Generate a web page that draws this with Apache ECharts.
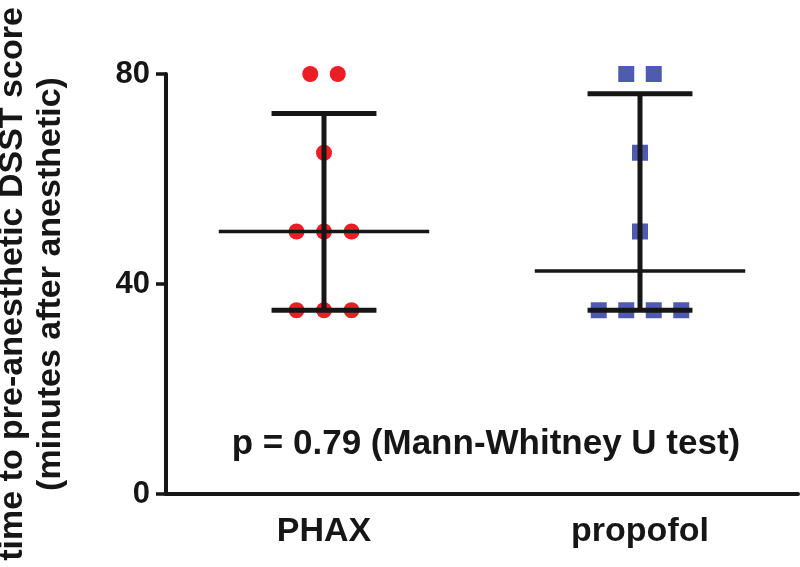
<!DOCTYPE html>
<html><head><meta charset="utf-8">
<script src="https://cdn.jsdelivr.net/npm/echarts@6/dist/echarts.min.js"></script>
<style>html,body{margin:0;padding:0;background:#fff}#c{width:800px;height:567px}</style>
</head><body><div id="c"></div>
<script>
const categories = ['PHAX', 'propofol'];
const phaxValues = [80, 80, 65, 50, 50, 50, 35, 35, 35];
const propofolValues = [80, 80, 65, 50, 35, 35, 35, 35];
const medians = [50, 42.5];
const lowerQuartiles = [35, 35];
const upperQuartiles = [72.5, 76.25];
const yTicks = [0, 40, 80];
const annotation = 'p = 0.79 (Mann-Whitney U test)';
const yTitle = ['time to pre-anesthetic DSST score', '(minutes after anesthetic)'];

const FONT = '"Liberation Sans", Arial, Helvetica, sans-serif';
const INK = '#161616';

// column-scatter layout: identical values spread side by side
function swarm(values, catIndex, spacing) {
  const counts = {};
  values.forEach(v => counts[v] = (counts[v] || 0) + 1);
  const seen = {};
  return values.map(v => {
    seen[v] = seen[v] === undefined ? 0 : seen[v] + 1;
    const off = (seen[v] - (counts[v] - 1) / 2) * spacing;
    return { value: [catIndex, v], symbolOffset: [off, 0] };
  });
}

const summaryData = categories.map((c, i) => [i, medians[i], lowerQuartiles[i], upperQuartiles[i]]);

const chart = echarts.init(document.getElementById('c'), null, { renderer: 'canvas' });
chart.setOption({
  animation: false,
  backgroundColor: '#fff',
  grid: { left: 166, right: 2, top: 74, bottom: 73, containLabel: false, outerBoundsMode: 'none' },
  xAxis: {
    type: 'category',
    data: categories,
    boundaryGap: true,
    axisLine: { lineStyle: { color: INK, width: 4 } },
    axisTick: { alignWithLabel: true, length: 11, lineStyle: { color: INK, width: 3.5 } },
    axisLabel: { color: INK, fontSize: 34, fontWeight: 'bold', fontFamily: FONT, margin: 21 },
    splitLine: { show: false }
  },
  yAxis: {
    type: 'value',
    min: yTicks[0],
    max: yTicks[yTicks.length - 1],
    interval: yTicks[1] - yTicks[0],
    name: yTitle.join('\n'),
    nameLocation: 'middle',
    nameGap: 96,
    nameTextStyle: { color: INK, fontSize: 34, fontWeight: 'bold', fontFamily: FONT, lineHeight: 38 },
    axisLine: { show: true, lineStyle: { color: INK, width: 4 } },
    axisTick: { show: true, length: 10, lineStyle: { color: INK, width: 3.5 } },
    axisLabel: { color: INK, fontSize: 31, fontWeight: 'bold', fontFamily: FONT, margin: 16 },
    splitLine: { show: false }
  },
  series: [
    {
      type: 'scatter',
      name: categories[0],
      clip: false,
      symbol: 'circle',
      symbolSize: 16,
      itemStyle: { color: '#EE1C24', opacity: 1 },
      data: swarm(phaxValues, 0, 27.5),
      z: 2
    },
    {
      type: 'scatter',
      name: categories[1],
      clip: false,
      symbol: 'rect',
      symbolSize: 16,
      itemStyle: { color: '#4F5BB0', opacity: 1 },
      data: swarm(propofolValues, 1, 27.5),
      z: 2
    },
    {
      type: 'custom',
      clip: false,
      z: 5,
      data: summaryData,
      renderItem: function (params, api) {
        const i = api.value(0);
        const band = api.size([1, 0])[0];
        const med = api.coord([i, api.value(1)]);
        const lo = api.coord([i, api.value(2)]);
        const hi = api.coord([i, api.value(3)]);
        const mw = band * 0.333, cw = band * 0.166;
        const s = { stroke: INK, lineWidth: 5 };
        return {
          type: 'group',
          children: [
            { type: 'line', shape: { x1: lo[0], y1: lo[1], x2: hi[0], y2: hi[1] }, style: s },
            { type: 'line', shape: { x1: lo[0] - cw, y1: lo[1], x2: lo[0] + cw, y2: lo[1] }, style: s },
            { type: 'line', shape: { x1: hi[0] - cw, y1: hi[1], x2: hi[0] + cw, y2: hi[1] }, style: s },
            { type: 'line', shape: { x1: med[0] - mw, y1: med[1], x2: med[0] + mw, y2: med[1] }, style: { stroke: INK, lineWidth: 3.5 } }
          ]
        };
      }
    }
  ],
  graphic: [
    {
      type: 'text',
      x: 486,
      y: 444,
      style: {
        text: annotation,
        fill: INK,
        font: 'bold 35px ' + FONT,
        align: 'center',
        verticalAlign: 'middle'
      }
    }
  ]
});
</script>
</body></html>
